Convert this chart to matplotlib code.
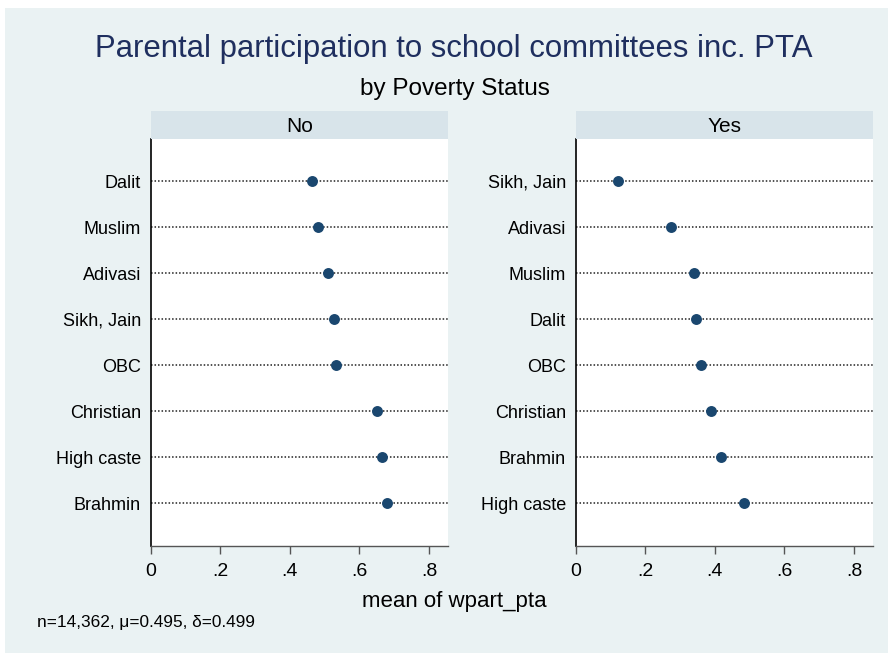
import matplotlib
matplotlib.use("Agg")
import matplotlib.pyplot as plt
from matplotlib.patches import Rectangle

plt.rcParams["font.family"] = ["Liberation Sans", "DejaVu Sans"]

# Mean participation by caste/religion group, split by poverty status
groups_no = ["Dalit", "Muslim", "Adivasi", "Sikh, Jain", "OBC",
             "Christian", "High caste", "Brahmin"]
means_no = [0.464, 0.480, 0.509, 0.528, 0.534, 0.651, 0.666, 0.681]

groups_yes = ["Sikh, Jain", "Adivasi", "Muslim", "Dalit", "OBC",
              "Christian", "Brahmin", "High caste"]
means_yes = [0.123, 0.273, 0.340, 0.346, 0.360, 0.390, 0.418, 0.485]

panel_titles = ["No", "Yes"]
x_ticks = [0, 0.2, 0.4, 0.6, 0.8]
x_ticklabels = ["0", ".2", ".4", ".6", ".8"]

W, H = 888, 653
BG = "#eaf2f3"
STRIP = "#d8e4ea"
NAVY = "#1a476f"
TITLE_C = "#1f2f5f"

fig = plt.figure(figsize=(W / 100, H / 100), dpi=100)
fig.patch.set_facecolor("white")
fig.add_artist(Rectangle((5 / W, 0), 1 - 5 / W, 1 - 8 / H,
                         transform=fig.transFigure, facecolor=BG,
                         edgecolor="none", zorder=-10))

def px(x0, y0, x1, y1):
    return [x0 / W, 1 - y1 / H, (x1 - x0) / W, (y1 - y0) / H]

panels = [
    (px(150.7, 139, 448, 546), groups_no, means_no, panel_titles[0]),
    (px(575.7, 139, 873, 546), groups_yes, means_yes, panel_titles[1]),
]

for rect, groups, means, ptitle in panels:
    ax = fig.add_axes(rect)
    ax.set_facecolor("white")
    pos = list(range(1, len(groups) + 1))
    for p in pos:
        ax.plot([0, 0.855], [p, p], color="#222222", lw=1.1,
                linestyle=(0, (1, 1.3)), zorder=1)
    ax.scatter(means, pos, s=62, color=NAVY, zorder=3, linewidths=0)
    ax.set_xlim(0, 0.855)
    ax.set_ylim(8.93, 0.087)
    ax.set_yticks(pos)
    ax.set_yticklabels(groups, fontsize=13)
    ax.tick_params(axis="y", length=0, pad=7)
    ax.set_xticks(x_ticks)
    ax.set_xticklabels(x_ticklabels, fontsize=14)
    ax.tick_params(axis="x", length=6, width=1, color="#555555", pad=6)
    for s in ["top", "right"]:
        ax.spines[s].set_visible(False)
    ax.spines["left"].set_color("black")
    ax.spines["left"].set_linewidth(1.2)
    ax.spines["bottom"].set_color("#555555")
    ax.spines["bottom"].set_linewidth(1.0)
    # strip header
    x0 = rect[0]
    fig.add_artist(Rectangle((x0, 1 - 139 / H), rect[2], 28 / H,
                             transform=fig.transFigure, facecolor=STRIP,
                             edgecolor="none"))
    fig.text(x0 + rect[2] / 2, 1 - 126.5 / H, ptitle, ha="center",
             va="center", fontsize=15, color="black")

fig.text(454 / W, 1 - 49.5 / H,
         "Parental participation to school committees inc. PTA",
         ha="center", va="center", fontsize=22.4, color=TITLE_C)
fig.text(455 / W, 1 - 89 / H, "by Poverty Status", ha="center",
         va="center", fontsize=17.5, color="black")
fig.text(454 / W, 1 - 601 / H, "mean of wpart_pta", ha="center",
         va="center", fontsize=16, color="black")
fig.text(37 / W, 1 - 623 / H, "n=14,362, \u03bc=0.495, \u03b4=0.499",
         ha="left", va="center", fontsize=12.4, color="black")

fig.savefig("out.png", dpi=100, facecolor=fig.get_facecolor())
